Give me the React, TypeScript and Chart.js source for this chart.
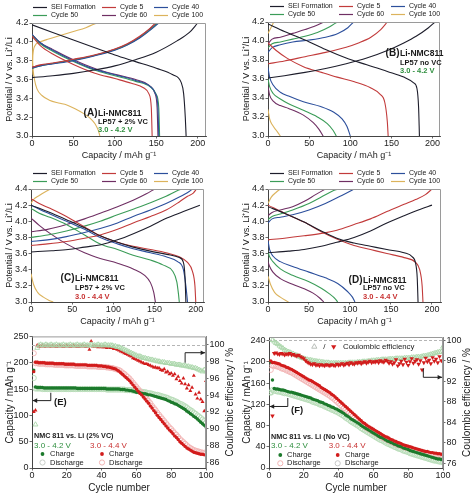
import React, { useEffect, useRef } from "react";
import { Chart, registerables } from "chart.js";

Chart.register(...registerables);

const FONT = "'Liberation Sans', Arial, Helvetica, sans-serif";
Chart.defaults.font.family = FONT;
Chart.defaults.color = "#222";

type Curve = number[][];

// ---------------- shared labels / ticks ----------------
const SERIES_LABELS = ["SEI Formation", "Cycle 5", "Cycle 40", "Cycle 50", "Cycle 60", "Cycle 100"];
const SERIES_COLORS = ["#1d1d2b", "#c23b3b", "#2c4f9c", "#3b9c58", "#6f2f63", "#dcb35c"];
const CAP_TICKS = [0, 50, 100, 150, 200];
const V_TICKS_42 = [3.0, 3.2, 3.4, 3.6, 3.8, 4.0, 4.2];
const V_TICKS_44 = [3.0, 3.2, 3.4, 3.6, 3.8, 4.0, 4.2, 4.4];
const CYCLE_TICKS = [0, 20, 40, 60, 80, 100];
const E_CAP_TICKS = [0, 50, 100, 150, 200, 250];
const E_CE_TICKS = [86, 88, 90, 92, 94, 96, 98, 100];
const F_CAP_TICKS = [0, 40, 80, 120, 160, 200, 240];
const F_CE_TICKS = [76, 80, 84, 88, 92, 96, 100];

// ---------------- Panel A : 2% VC, 3.0-4.2 V ----------------
const A_SEI_CHG: Curve = [[0,3.62],[25,3.64],[50,3.665],[75,3.70],[100,3.745],[125,3.81],[150,3.89],[175,4.01],[190,4.10],[200,4.2]];
const A_SEI_DIS: Curve = [[0,4.18],[25,4.10],[50,4.02],[75,3.94],[100,3.86],[125,3.79],[150,3.72],[170,3.65],[180,3.57],[183,3.45],[185,3.2],[186,3.0]];
const A_C5_CHG: Curve = [[0,3.73],[10,3.755],[25,3.775],[50,3.815],[75,3.86],[100,3.925],[115,3.98],[130,4.06],[142,4.14],[149,4.2]];
const A_C5_DIS: Curve = [[0,4.06],[10,3.96],[25,3.87],[50,3.76],[75,3.67],[100,3.61],[120,3.56],[135,3.51],[141,3.45],[144,3.3],[145,3.0]];
const A_C40_CHG: Curve = [[0,3.72],[10,3.745],[25,3.765],[50,3.80],[75,3.85],[100,3.91],[115,3.965],[130,4.04],[145,4.14],[153,4.2]];
const A_C40_DIS: Curve = [[0,4.08],[10,3.99],[25,3.91],[50,3.80],[75,3.71],[100,3.65],[125,3.59],[142,3.53],[149,3.45],[152,3.3],[153,3.0]];
const A_C50_CHG: Curve = [[0,3.72],[10,3.745],[25,3.77],[50,3.805],[75,3.855],[100,3.915],[115,3.97],[130,4.045],[145,4.145],[152,4.2]];
const A_C50_DIS: Curve = [[0,4.07],[10,3.98],[25,3.90],[50,3.79],[75,3.70],[100,3.64],[125,3.58],[143,3.52],[150,3.44],[153,3.3],[154,3.0]];
const A_C60_CHG: Curve = [[0,3.73],[10,3.75],[25,3.77],[50,3.81],[75,3.855],[100,3.92],[115,3.975],[130,4.05],[144,4.15],[151,4.2]];
const A_C60_DIS: Curve = [[0,4.08],[10,3.99],[25,3.92],[50,3.81],[75,3.72],[100,3.655],[125,3.60],[141,3.54],[148,3.46],[151,3.3],[152,3.0]];
const A_C100_CHG: Curve = [[0,3.65],[1,3.85],[3,3.95],[10,4.0],[20,4.03],[35,4.07],[50,4.11],[65,4.15],[78,4.2]];
const A_C100_DIS: Curve = [[0,4.0],[1,3.75],[3,3.6],[6,3.5],[12,3.43],[21,3.38],[32,3.35],[42,3.33],[52,3.29],[62,3.24],[70,3.19],[76,3.13],[80,3.06],[82,3.0]];

// ---------------- Panel B : no VC, 3.0-4.2 V ----------------
const B_SEI_CHG: Curve = [[0,3.61],[20,3.635],[45,3.67],[70,3.71],[95,3.76],[120,3.82],[145,3.9],[165,3.98],[180,4.05],[195,4.14],[203,4.2]];
const B_SEI_DIS: Curve = [[0,4.18],[20,4.1],[45,4.01],[70,3.91],[95,3.82],[120,3.75],[145,3.68],[165,3.62],[177,3.56],[181,3.5],[183,3.3],[184,3.0]];
const B_C5_CHG: Curve = [[0,3.76],[20,3.79],[45,3.835],[70,3.88],[95,3.935],[110,3.98],[125,4.04],[137,4.12],[145,4.2]];
const B_C5_DIS: Curve = [[0,3.98],[10,3.9],[23,3.82],[43,3.73],[65,3.67],[84,3.62],[105,3.57],[124,3.51],[136,3.44],[142,3.35],[145,3.15],[146,3.0]];
const B_C40_CHG: Curve = [[0,3.88],[5,3.93],[15,3.96],[30,3.99],[50,4.01],[70,4.04],[85,4.08],[97,4.14],[104,4.2]];
const B_C40_DIS: Curve = [[0,3.72],[2,3.62],[6,3.54],[15,3.46],[25,3.42],[43,3.36],[64,3.31],[80,3.25],[90,3.18],[96,3.1],[100,3.0]];
const B_C50_CHG: Curve = [[0,3.93],[5,3.97],[15,3.99],[30,4.02],[45,4.05],[60,4.09],[75,4.15],[84,4.2]];
const B_C50_DIS: Curve = [[0,3.6],[2,3.52],[6,3.45],[15,3.39],[25,3.34],[43,3.27],[60,3.2],[72,3.13],[79,3.06],[83,3.0]];
const B_C60_CHG: Curve = [[0,3.97],[5,4.02],[15,4.04],[30,4.08],[45,4.12],[58,4.16],[68,4.2]];
const B_C60_DIS: Curve = [[0,3.52],[2,3.43],[6,3.37],[15,3.32],[25,3.29],[43,3.22],[55,3.14],[62,3.07],[67,3.0]];
const B_C100_CHG: Curve = [[0,4.08],[3,4.13],[7,4.2]];
const B_C100_DIS: Curve = [[0,3.28],[2,3.18],[5,3.12],[10,3.06],[15,3.0]];

// ---------------- Panel C : 2% VC, 3.0-4.4 V ----------------
const C_SEI_CHG: Curve = [[0,3.62],[25,3.635],[45,3.65],[65,3.68],[85,3.71],[105,3.77],[125,3.85],[145,3.94],[165,4.04],[185,4.12],[205,4.2]];
const C_SEI_DIS: Curve = [[0,4.2],[20,4.12],[43,4.02],[65,3.92],[84,3.82],[105,3.74],[124,3.68],[145,3.63],[165,3.59],[180,3.55],[185,3.49],[187,3.3],[188,3.0]];
const C_C5_CHG: Curve = [[0,3.7],[20,3.72],[43,3.75],[65,3.79],[84,3.83],[105,3.9],[124,3.98],[145,4.06],[164,4.14],[180,4.24],[190,4.31],[197,4.35],[201,4.4]];
const C_C5_DIS: Curve = [[0,4.28],[10,4.22],[23,4.16],[43,4.06],[65,3.93],[84,3.82],[105,3.74],[124,3.69],[145,3.65],[164,3.61],[180,3.56],[190,3.49],[196,3.38],[199,3.2],[200,3.0]];
const C_C40_CHG: Curve = [[0,3.75],[20,3.77],[43,3.81],[65,3.86],[84,3.91],[105,3.98],[124,4.06],[145,4.14],[164,4.22],[180,4.3],[192,4.37],[196,4.4]];
const C_C40_DIS: Curve = [[0,4.2],[10,4.15],[23,4.09],[43,4.0],[65,3.9],[84,3.8],[105,3.72],[124,3.66],[145,3.61],[164,3.56],[178,3.5],[185,3.4],[188,3.2],[190,3.0]];
const C_C50_CHG: Curve = [[0,3.8],[20,3.83],[43,3.88],[65,3.94],[84,4.0],[105,4.08],[124,4.15],[145,4.23],[164,4.31],[178,4.38],[183,4.4]];
const C_C50_DIS: Curve = [[0,4.16],[10,4.1],[23,4.05],[43,3.96],[65,3.83],[84,3.72],[105,3.65],[124,3.58],[145,3.52],[160,3.46],[172,3.38],[177,3.25],[179,3.1],[180,3.0]];
const C_C60_CHG: Curve = [[0,3.87],[20,3.9],[43,3.96],[65,4.03],[84,4.1],[105,4.18],[124,4.26],[140,4.34],[150,4.4]];
const C_C60_DIS: Curve = [[0,4.04],[10,3.95],[23,3.85],[43,3.72],[65,3.61],[84,3.54],[105,3.48],[124,3.41],[138,3.33],[145,3.24],[149,3.12],[151,3.0]];
const C_C100_CHG: Curve = [[0,4.22],[3,4.27],[10,4.32],[18,4.37],[24,4.4]];
const C_C100_DIS: Curve = [[0,3.35],[3,3.22],[8,3.12],[15,3.06],[22,3.02],[27,3.0]];

// ---------------- Panel D : no VC, 3.0-4.4 V ----------------
const D_SEI_CHG: Curve = [[0,3.61],[25,3.63],[44,3.65],[65,3.69],[84,3.74],[105,3.8],[125,3.88],[145,3.98],[166,4.07],[186,4.15],[200,4.2]];
const D_SEI_DIS: Curve = [[0,4.18],[20,4.1],[44,3.99],[65,3.88],[84,3.79],[105,3.73],[125,3.69],[145,3.65],[166,3.61],[176,3.56],[180,3.48],[182,3.3],[183,3.0]];
const D_C5_CHG: Curve = [[0,3.77],[20,3.79],[44,3.82],[65,3.85],[84,3.89],[105,3.96],[125,4.03],[145,4.12],[166,4.21],[180,4.27],[192,4.33],[200,4.4]];
const D_C5_DIS: Curve = [[0,4.2],[20,4.1],[44,3.99],[65,3.87],[84,3.78],[105,3.7],[125,3.65],[145,3.6],[166,3.55],[180,3.49],[185,3.4],[188,3.2],[189,3.0]];
const D_C40_CHG: Curve = [[0,3.98],[5,4.03],[15,4.05],[30,4.08],[50,4.14],[70,4.22],[90,4.32],[105,4.4]];
const D_C40_DIS: Curve = [[0,3.76],[2,3.65],[6,3.57],[15,3.5],[30,3.44],[50,3.37],[70,3.3],[85,3.23],[97,3.13],[103,3.06],[106,3.0]];
const D_C50_CHG: Curve = [[0,4.02],[5,4.06],[15,4.09],[30,4.14],[50,4.22],[65,4.3],[80,4.38],[86,4.4]];
const D_C50_DIS: Curve = [[0,3.62],[2,3.56],[6,3.5],[15,3.41],[30,3.33],[50,3.25],[65,3.17],[75,3.1],[82,3.04],[85,3.0]];
const D_C60_CHG: Curve = [[0,4.07],[5,4.11],[15,4.14],[30,4.18],[45,4.25],[58,4.33],[70,4.4]];
const D_C60_DIS: Curve = [[0,3.5],[2,3.44],[6,3.37],[15,3.29],[30,3.22],[45,3.16],[55,3.11],[63,3.05],[68,3.0]];
const D_C100_CHG: Curve = [[0,4.22],[4,4.3],[10,4.36],[15,4.4]];
const D_C100_DIS: Curve = [[0,3.32],[3,3.22],[8,3.12],[15,3.06],[25,3.0]];

// ---------------- Panel E : cycling with 2% VC (values per cycle 1..100) ----------------
const E_C42 = [
  186,154,153,153,153,153,152,152,152,152,
  152,152,152,152,152,152,152,152,152,152,
  152,152,152,152,152,151,151,151,151,151,
  151,151,151,151,151,151,151,151,151,151,
  151,151,150,150,150,150,150,150,150,150,
  149,149,149,148,148,147,147,146,145,144,
  144,143,142,141,141,140,139,139,138,137,
  136,135,134,133,132,131,130,128,127,125,
  124,122,121,119,117,115,113,111,108,106,
  103,101,98,96,93,90,87,84,81,78];
const E_D42 = [
  171,151,151,151,151,150,150,150,150,150,
  150,150,150,150,150,150,150,150,150,150,
  150,150,150,150,150,150,150,150,150,150,
  150,150,150,150,150,150,150,150,150,150,
  150,150,149,149,149,149,149,149,149,149,
  149,149,149,148,148,148,148,147,147,146,
  146,145,145,144,144,143,142,142,141,140,
  139,139,138,137,136,135,134,133,131,130,
  129,127,126,124,122,121,119,117,115,112,
  110,108,105,103,100,98,95,92,89,86];
const E_C44 = [
  183,201,201,200,200,200,200,199,199,199,
  199,199,198,198,198,198,198,198,197,197,
  197,197,197,197,196,196,196,196,196,196,
  196,195,195,195,195,195,195,194,194,194,
  193,193,192,192,191,190,189,188,186,184,
  181,178,175,172,169,166,162,158,154,150,
  146,142,139,135,131,127,123,118,114,109,
  105,100,96,92,88,84,80,76,72,69,
  65,61,58,54,50,47,44,41,38,36,
  34,32,30,29,28,27,26,26,25,25];
const E_D44 = [
  218,199,199,198,198,198,198,197,197,197,
  197,197,196,196,196,196,196,196,195,195,
  195,195,195,195,194,194,194,194,194,194,
  194,193,193,193,193,193,193,192,192,192,
  192,192,191,191,190,190,189,188,187,186,
  184,181,179,176,173,170,166,162,158,154,
  150,146,143,139,135,131,127,123,118,114,
  110,105,101,97,93,89,85,81,77,74,
  70,66,63,59,55,52,49,46,43,40,
  38,36,34,33,32,31,30,29,29,28];
const E_CE42 = [
  null,90.5,99.6,99.9,100.0,99.9,99.9,100.0,99.9,99.9,
  100.0,99.9,99.9,100.0,99.9,99.9,99.9,100.0,99.9,99.9,
  99.9,100.0,99.9,99.9,99.9,100.0,99.9,99.9,99.9,100.0,
  99.9,99.9,99.9,100.0,99.9,99.9,99.9,100.0,99.9,99.9,
  99.9,100.0,99.9,99.9,99.9,99.9,99.8,99.8,99.7,99.7,
  99.6,99.5,99.4,99.3,99.2,99.1,99.0,98.9,98.8,98.7,
  98.6,98.6,98.5,98.4,98.4,98.3,98.3,98.2,98.2,98.1,
  98.1,98.0,98.0,97.9,97.9,97.9,97.8,97.8,97.8,97.7,
  97.7,97.7,97.6,97.6,97.6,97.5,97.5,97.5,97.4,97.4,
  97.3,97.3,97.2,97.2,97.1,97.0,96.9,96.8,97.0,96.8];
const E_CE44 = [
  92.0,92.2,99.9,99.8,99.8,99.9,99.8,99.8,99.9,99.8,
  99.8,99.9,99.8,99.8,99.8,99.9,99.8,99.8,99.8,99.9,
  99.8,99.8,99.8,99.9,99.8,99.8,99.8,99.8,99.9,99.8,
  99.8,99.8,99.4,100.4,99.8,99.8,99.8,99.7,99.8,99.7,
  99.7,99.7,99.6,99.7,99.6,99.6,99.5,99.5,99.4,99.3,
  99.2,99.1,99.0,98.9,98.8,98.7,98.6,98.4,98.3,98.2,
  98.1,98.0,97.9,97.8,97.7,97.7,97.6,97.5,97.4,97.3,
  97.3,97.2,97.2,97.0,96.9,97.1,96.7,96.8,96.5,96.6,
  96.3,96.5,95.9,96.2,95.7,95.4,96.0,95.3,94.8,95.2,
  94.5,94.9,96.3,94.1,93.6,94.3,93.5,93.2,92.1,95.7];

// ---------------- Panel F : cycling without VC (values per cycle 1..100) ----------------
const F_C42 = [
  200,166,150,149,149,148,147,147,146,145,
  144,143,143,142,141,140,139,138,137,136,
  135,134,133,132,130,129,128,127,125,124,
  123,121,120,118,117,115,114,112,111,109,
  107,105,103,100,98,96,93,91,89,87,
  85,83,80,78,76,74,72,70,68,66,
  64,62,60,58,57,55,53,51,50,48,
  47,45,44,42,41,40,38,37,36,35,
  33,32,31,30,29,28,27,26,25,24,
  23,22,21,20,19,18,17,17,16,15];
const F_D42 = [
  142,147,146,145,144,144,143,142,141,141,
  140,139,138,137,136,135,134,133,132,131,
  130,129,128,127,125,124,123,122,120,119,
  118,116,115,113,112,110,109,107,106,104,
  102,100,98,95,93,91,88,86,84,82,
  80,78,75,73,71,69,67,65,63,61,
  59,57,55,53,52,50,48,46,45,43,
  42,40,39,37,36,35,33,32,31,30,
  28,27,26,25,24,23,22,21,20,19,
  18,17,16,15,14,14,13,12,12,11];
const F_C44 = [
  202,199,199,198,197,196,194,193,192,190,
  189,187,186,184,182,180,178,176,174,172,
  170,168,166,165,163,161,159,157,155,152,
  150,148,146,144,142,139,137,134,131,128,
  125,122,119,116,113,110,107,104,101,98,
  95,92,89,86,84,81,79,77,75,73,
  71,69,67,65,63,61,59,58,56,54,
  53,51,50,48,47,46,44,43,42,41,
  40,39,38,37,36,35,34,33,32,31,
  31,30,29,29,28,28,27,27,26,26];
const F_D44 = [
  185,193,193,192,191,190,188,187,186,184,
  183,181,180,178,176,174,172,170,168,166,
  164,162,160,158,156,154,152,150,148,146,
  144,142,140,138,136,133,131,128,125,122,
  119,116,113,110,107,104,101,98,95,92,
  89,87,84,81,79,76,74,72,70,68,
  66,64,62,60,58,56,55,53,51,50,
  48,47,45,44,43,41,40,39,38,37,
  36,35,34,33,32,31,30,29,28,28,
  27,26,26,25,25,24,24,23,23,22];
const F_CE42 = [
  89.7,100.0,99.7,99.4,99.2,98.9,98.6,98.4,98.1,97.9,
  97.7,97.6,97.4,97.3,97.1,97.0,96.8,96.7,96.5,96.4,
  96.3,96.2,96.1,96.1,96.0,95.9,95.9,95.8,95.8,95.7,
  95.7,95.6,95.6,95.6,95.5,95.5,95.5,95.5,95.5,95.5,
  95.5,95.5,95.5,95.5,95.5,95.6,95.6,95.6,95.6,95.6,
  95.7,95.7,95.7,95.8,95.8,95.8,95.9,95.9,96.0,96.0,
  96.0,96.1,96.1,96.1,96.2,96.2,96.2,96.2,96.3,96.3,
  96.3,96.3,96.4,96.4,96.4,96.4,96.4,96.5,96.5,96.5,
  96.5,96.6,96.6,96.6,96.7,96.7,96.7,96.8,96.9,96.9,
  97.0,97.1,97.2,97.3,97.4,97.5,97.6,97.7,97.7,98.7];
const F_CE44 = [
  null,85.2,97.4,97.5,97.3,97.2,97.4,97.3,97.1,97.3,
  97.2,97.4,97.1,97.2,97.0,96.9,97.1,96.8,96.6,96.4,
  96.0,95.7,95.5,95.3,95.2,95.4,95.1,95.2,95.0,95.2,
  95.1,95.0,95.2,95.1,95.0,95.2,95.1,95.0,95.3,95.1,
  95.2,95.4,95.1,95.3,95.5,95.2,95.6,95.4,95.3,95.6,
  95.5,95.7,95.4,95.6,95.8,95.5,95.7,95.9,95.6,95.8,
  95.7,95.9,95.6,96.0,95.8,95.7,96.1,95.9,95.5,95.8,
  95.3,95.6,96.2,95.0,95.4,95.9,95.2,96.3,95.7,95.1,
  95.8,96.4,95.5,95.9,96.2,95.3,96.0,94.2,95.6,96.5,
  95.8,96.1,95.4,96.6,95.9,96.3,95.6,96.8,96.0,95.7];

// ---------------- styling helpers ----------------
const GREEN_T = "#2f8f3f";
const RED_T = "#c83232";
const DOT_GREEN = "#1c7a2c";
const DOT_RED = "#d21c1c";
const RING_GREEN = "#b7dbb7";
const RING_PINK = "#f2b4b4";
const TRI_GREEN = "#a9d6a9";

interface TextItem { t: string; x: number; y: number; size: number; bold?: boolean; color?: string; align?: CanvasTextAlign; }
interface MarkItem { shape: "dot" | "ring" | "tri" | "tridown"; x: number; y: number; color: string; }
interface Rect { l: number; r: number; t: number; b: number; }

function drawText(ctx: CanvasRenderingContext2D, it: TextItem) {
  ctx.save();
  ctx.font = `${it.bold ? "bold " : ""}${it.size}px ${FONT}`;
  ctx.fillStyle = it.color ?? "#1a1a1a";
  ctx.textAlign = it.align ?? "left";
  ctx.textBaseline = "middle";
  ctx.fillText(it.t, it.x, it.y);
  ctx.restore();
}

function drawMark(ctx: CanvasRenderingContext2D, m: MarkItem) {
  ctx.save();
  ctx.beginPath();
  if (m.shape === "dot" || m.shape === "ring") {
    ctx.arc(m.x, m.y, m.shape === "dot" ? 1.9 : 2.6, 0, Math.PI * 2);
  } else {
    const r = 3;
    const s = m.shape === "tri" ? 1 : -1;
    ctx.moveTo(m.x, m.y - s * r);
    ctx.lineTo(m.x + r * 0.87, m.y + s * r * 0.5);
    ctx.lineTo(m.x - r * 0.87, m.y + s * r * 0.5);
    ctx.closePath();
  }
  if (m.shape === "dot" || m.shape === "tridown") {
    ctx.fillStyle = m.color;
    ctx.fill();
  } else {
    ctx.strokeStyle = m.color;
    ctx.lineWidth = 1;
    ctx.stroke();
  }
  ctx.restore();
}

function frameTopRight(chart: any, color: string) {
  const { ctx, chartArea: a } = chart;
  ctx.save();
  ctx.strokeStyle = color;
  ctx.lineWidth = 1;
  ctx.beginPath();
  ctx.moveTo(a.left, a.top + 0.5);
  ctx.lineTo(a.right - 0.5, a.top + 0.5);
  ctx.lineTo(a.right - 0.5, a.bottom);
  ctx.stroke();
  ctx.restore();
}

function linAxis(o: {
  min: number; max: number; ticks: number[]; fit: number; horizontal: boolean;
  title?: string; titleSize?: number; titlePad?: any; fmt?: (v: number) => string;
  position?: string; borderColor?: string; tickPad?: number;
}) {
  return {
    type: "linear",
    position: o.position ?? (o.horizontal ? "bottom" : "left"),
    min: o.min,
    max: o.max,
    afterBuildTicks: (s: any) => { s.ticks = o.ticks.map((v) => ({ value: v })); },
    afterFit: (s: any) => { if (o.horizontal) s.height = o.fit; else s.width = o.fit; },
    ticks: {
      font: { size: 9 },
      color: "#222",
      padding: o.tickPad ?? 1,
      autoSkip: false,
      maxRotation: 0,
      minRotation: 0,
      callback: (v: any) => (o.fmt ? o.fmt(Number(v)) : String(v)),
    },
    grid: { display: true, drawOnChartArea: false, drawTicks: true, tickLength: 2.5, color: "#444", lineWidth: 0.8 },
    border: { display: true, color: o.borderColor ?? "#444", width: 1 },
    title: o.title
      ? { display: true, text: o.title, font: { size: o.titleSize ?? 9 }, color: "#1a1a1a", padding: o.titlePad ?? { top: 4, bottom: 4 } }
      : { display: false },
  };
}

// ---------------- voltage profile panels ----------------
function voltageConfig(spec: {
  w: number; h: number; plot: Rect; curves: Curve[][]; yMax: number; yTicks: number[]; xMax: number;
  texts: TextItem[]; xTitlePad: number;
}) {
  const datasets: any[] = [];
  spec.curves.forEach((pair, i) => {
    pair.forEach((c, j) => {
      datasets.push({
        label: SERIES_LABELS[i] + (j === 0 ? " charge" : " discharge"),
        data: c.map(([x, y]) => ({ x, y })),
        showLine: true,
        borderColor: SERIES_COLORS[i],
        backgroundColor: SERIES_COLORS[i],
        borderWidth: 1.1,
        pointRadius: 0,
        cubicInterpolationMode: "monotone",
        fill: false,
      });
    });
  });
  const { plot, w, h } = spec;
  const deco = {
    id: "deco",
    afterDraw(chart: any) {
      const ctx = chart.ctx as CanvasRenderingContext2D;
      frameTopRight(chart, "#9a9a9a");
      const cols = [33, 102, 154];
      const rows = [plot.t - 15.5, plot.t - 7.5];
      SERIES_LABELS.forEach((lab, i) => {
        const x = cols[i % 3];
        const y = rows[Math.floor(i / 3)];
        ctx.save();
        ctx.strokeStyle = SERIES_COLORS[i];
        ctx.lineWidth = 1.2;
        ctx.beginPath();
        ctx.moveTo(x, y);
        ctx.lineTo(x + 14, y);
        ctx.stroke();
        ctx.restore();
        drawText(ctx, { t: lab, x: x + 18, y, size: 7 });
      });
      spec.texts.forEach((t) => drawText(ctx, t));
    },
  };
  return {
    type: "scatter",
    data: { datasets },
    options: {
      responsive: false,
      animation: false,
      devicePixelRatio: 1,
      events: [],
      layout: { padding: { top: plot.t, right: w - plot.r, left: 0, bottom: 0 } },
      plugins: { legend: { display: false }, tooltip: { enabled: false }, colors: { enabled: false } },
      scales: {
        x: linAxis({ min: 0, max: spec.xMax, ticks: CAP_TICKS, fit: h - plot.b, horizontal: true,
          title: "Capacity / mAh g\u207B\u00B9", titleSize: 9, titlePad: { top: 0, bottom: spec.xTitlePad }, tickPad: 0 }),
        y: linAxis({ min: 3.0, max: spec.yMax, ticks: spec.yTicks, fit: plot.l, horizontal: false,
          title: "Potential / V vs. Li\u207A/Li", titleSize: 9, fmt: (v) => v.toFixed(1) }),
      },
    },
    plugins: [deco],
  };
}

// ---------------- cycling panels ----------------
function cycleConfig(spec: {
  w: number; h: number; plot: Rect; capMax: number; capTicks: number[]; ceMin: number; ceMax: number; ceTicks: number[];
  c42: (number | null)[]; d42: (number | null)[]; c44: (number | null)[]; d44: (number | null)[];
  ce42: (number | null)[]; ce44: (number | null)[]; ceDown: boolean; ce42OnTop: boolean;
  texts: TextItem[]; marks: MarkItem[]; arrows: number[][][];
}) {
  const toPts = (arr: (number | null)[]) =>
    arr.map((v, i) => ({ x: i + 1, y: v })).filter((p) => p.y !== null);
  const dot = (c: string) => ({ pointStyle: "circle", pointRadius: 1.7, pointBackgroundColor: c, pointBorderColor: c, pointBorderWidth: 0, borderColor: c, backgroundColor: c });
  const ring = (c: string) => ({ pointStyle: "circle", pointRadius: 2.6, pointBackgroundColor: "rgba(255,255,255,0)", pointBorderColor: c, pointBorderWidth: 0.9, borderColor: c, backgroundColor: c });
  const triOpen = (c: string) => ({ pointStyle: "triangle", pointRadius: 2.8, pointBackgroundColor: "rgba(255,255,255,0)", pointBorderColor: c, pointBorderWidth: 0.9, borderColor: c, backgroundColor: c });
  const triFill = (c: string, rot: number, r: number) => ({ pointStyle: "triangle", pointRadius: r, pointBackgroundColor: c, pointBorderColor: c, pointBorderWidth: 0, pointRotation: rot, borderColor: c, backgroundColor: c });
  const ce44 = { label: "CE 4.4", data: toPts(spec.ce44), yAxisID: "y2", showLine: false, ...triFill(DOT_RED, spec.ceDown ? 180 : 0, spec.ce42OnTop ? 2.3 : 2.6) };
  const ce42 = { label: "CE 4.2", data: toPts(spec.ce42), yAxisID: "y2", showLine: false, ...triOpen(TRI_GREEN) };
  const datasets: any[] = [
    { label: "4.4 charge", data: toPts(spec.c44), yAxisID: "y", showLine: false, ...dot(DOT_RED) },
    { label: "4.2 charge", data: toPts(spec.c42), yAxisID: "y", showLine: false, ...dot(DOT_GREEN) },
    { label: "4.4 discharge", data: toPts(spec.d44), yAxisID: "y", showLine: false, ...ring(RING_PINK) },
    { label: "4.2 discharge", data: toPts(spec.d42), yAxisID: "y", showLine: false, ...ring(RING_GREEN) },
    ...(spec.ce42OnTop ? [ce42, ce44] : [ce44, ce42]),
  ];
  const { plot, w, h } = spec;
  const deco = {
    id: "deco",
    beforeDatasetsDraw(chart: any) {
      const ctx = chart.ctx as CanvasRenderingContext2D;
      const a = chart.chartArea;
      const y = Math.round(chart.scales.y2.getPixelForValue(100)) + 0.5;
      ctx.save();
      ctx.strokeStyle = "#b5b5b5";
      ctx.lineWidth = 1;
      ctx.setLineDash([3, 2]);
      ctx.beginPath();
      ctx.moveTo(a.left, y);
      ctx.lineTo(a.right, y);
      ctx.stroke();
      ctx.restore();
    },
    afterDraw(chart: any) {
      const ctx = chart.ctx as CanvasRenderingContext2D;
      frameTopRight(chart, "#9a9a9a");
      const xs = chart.scales.x, ys = chart.scales.y;
      spec.arrows.forEach((pts) => {
        const p = pts.map(([a, b]) => [xs.getPixelForValue(a), ys.getPixelForValue(b)]);
        ctx.save();
        ctx.strokeStyle = "#222";
        ctx.fillStyle = "#222";
        ctx.lineWidth = 1;
        ctx.beginPath();
        ctx.moveTo(p[0][0], p[0][1]);
        for (let i = 1; i < p.length; i++) ctx.lineTo(p[i][0], p[i][1]);
        ctx.stroke();
        const [x1, y1] = p[p.length - 2];
        const [x2, y2] = p[p.length - 1];
        const ang = Math.atan2(y2 - y1, x2 - x1);
        ctx.beginPath();
        ctx.moveTo(x2, y2);
        ctx.lineTo(x2 - 4.5 * Math.cos(ang) + 2.3 * Math.sin(ang), y2 - 4.5 * Math.sin(ang) - 2.3 * Math.cos(ang));
        ctx.lineTo(x2 - 4.5 * Math.cos(ang) - 2.3 * Math.sin(ang), y2 - 4.5 * Math.sin(ang) + 2.3 * Math.cos(ang));
        ctx.closePath();
        ctx.fill();
        ctx.restore();
      });
      spec.marks.forEach((m) => drawMark(ctx, m));
      spec.texts.forEach((t) => drawText(ctx, t));
      // right axis title, reading bottom-to-top
      const a = chart.chartArea;
      ctx.save();
      ctx.translate(w - 7, (a.top + a.bottom) / 2);
      ctx.rotate(-Math.PI / 2);
      ctx.font = `10px ${FONT}`;
      ctx.fillStyle = "#1a1a1a";
      ctx.textAlign = "center";
      ctx.textBaseline = "middle";
      ctx.fillText("Coulombic efficiency / %", 0, 0);
      ctx.restore();
    },
  };
  return {
    type: "scatter",
    data: { datasets },
    options: {
      responsive: false,
      animation: false,
      devicePixelRatio: 1,
      events: [],
      layout: { padding: { top: plot.t, right: 0, left: 0, bottom: 0 } },
      plugins: { legend: { display: false }, tooltip: { enabled: false }, colors: { enabled: false } },
      scales: {
        x: linAxis({ min: 0, max: 100, ticks: CYCLE_TICKS, fit: h - plot.b, horizontal: true,
          title: "Cycle number", titleSize: 10, titlePad: { top: 0, bottom: 8 }, tickPad: 0 }),
        y: linAxis({ min: 0, max: spec.capMax, ticks: spec.capTicks, fit: plot.l, horizontal: false,
          title: "Capacity / mAh g\u207B\u00B9", titleSize: 10 }),
        y2: linAxis({ min: spec.ceMin, max: spec.ceMax, ticks: spec.ceTicks, fit: w - plot.r, horizontal: false,
          position: "right", borderColor: "#888" }),
      },
    },
    plugins: [deco],
  };
}

function ChartCanvas({ x, y, w, h, build }: { x: number; y: number; w: number; h: number; build: () => any }) {
  const ref = useRef<HTMLCanvasElement>(null);
  useEffect(() => {
    const chart = new Chart(ref.current as HTMLCanvasElement, build());
    return () => chart.destroy();
  }, []);
  return (
    <canvas
      ref={ref}
      width={w}
      height={h}
      style={{ position: "absolute", left: x, top: y, width: w, height: h, display: "block" }}
    />
  );
}

const buildA = () => voltageConfig({
  w: 237, h: 165, plot: { l: 32, r: 206, t: 23, b: 136 }, xMax: 210, yMax: 4.2, yTicks: V_TICKS_42, xTitlePad: 4,
  curves: [[A_SEI_CHG, A_SEI_DIS], [A_C5_CHG, A_C5_DIS], [A_C40_CHG, A_C40_DIS], [A_C50_CHG, A_C50_DIS], [A_C60_CHG, A_C60_DIS], [A_C100_CHG, A_C100_DIS]],
  texts: [
    { t: "(A)", x: 97.5, y: 113, size: 10, bold: true, align: "right" },
    { t: "Li-NMC811", x: 98, y: 114, size: 8.5, bold: true },
    { t: "LP57 + 2% VC", x: 98, y: 122, size: 7.5, bold: true },
    { t: "3.0 - 4.2 V", x: 98, y: 130, size: 7.5, bold: true, color: GREEN_T },
  ],
});

const buildB = () => voltageConfig({
  w: 237, h: 165, plot: { l: 31, r: 203, t: 22, b: 136 }, xMax: 209, yMax: 4.2, yTicks: V_TICKS_42, xTitlePad: 4,
  curves: [[B_SEI_CHG, B_SEI_DIS], [B_C5_CHG, B_C5_DIS], [B_C40_CHG, B_C40_DIS], [B_C50_CHG, B_C50_DIS], [B_C60_CHG, B_C60_DIS], [B_C100_CHG, B_C100_DIS]],
  texts: [
    { t: "(B)", x: 162.5, y: 53, size: 10, bold: true, align: "right" },
    { t: "Li-NMC811", x: 163, y: 53.5, size: 8.5, bold: true },
    { t: "LP57 no VC", x: 163, y: 62.7, size: 7.5, bold: true },
    { t: "3.0 - 4.2 V", x: 163, y: 71.3, size: 7.5, bold: true, color: GREEN_T },
  ],
});

const buildC = () => voltageConfig({
  w: 237, h: 165, plot: { l: 31, r: 204, t: 24, b: 137 }, xMax: 210, yMax: 4.4, yTicks: V_TICKS_44, xTitlePad: 3,
  curves: [[C_SEI_CHG, C_SEI_DIS], [C_C5_CHG, C_C5_DIS], [C_C40_CHG, C_C40_DIS], [C_C50_CHG, C_C50_DIS], [C_C60_CHG, C_C60_DIS], [C_C100_CHG, C_C100_DIS]],
  texts: [
    { t: "(C)", x: 74.5, y: 113.3, size: 10, bold: true, align: "right" },
    { t: "Li-NMC811", x: 75, y: 113.5, size: 8.5, bold: true },
    { t: "LP57 + 2% VC", x: 75, y: 123.3, size: 7.5, bold: true },
    { t: "3.0 - 4.4 V", x: 75, y: 131.7, size: 7.5, bold: true, color: RED_T },
  ],
});

const buildD = () => voltageConfig({
  w: 237, h: 165, plot: { l: 31, r: 204, t: 24, b: 137 }, xMax: 211, yMax: 4.4, yTicks: V_TICKS_44, xTitlePad: 3,
  curves: [[D_SEI_CHG, D_SEI_DIS], [D_C5_CHG, D_C5_DIS], [D_C40_CHG, D_C40_DIS], [D_C50_CHG, D_C50_DIS], [D_C60_CHG, D_C60_DIS], [D_C100_CHG, D_C100_DIS]],
  texts: [
    { t: "(D)", x: 125.5, y: 115, size: 10, bold: true, align: "right" },
    { t: "Li-NMC811", x: 126, y: 115.3, size: 8.5, bold: true },
    { t: "LP57 no VC", x: 126, y: 123.3, size: 7.5, bold: true },
    { t: "3.0 - 4.4 V", x: 126, y: 131.7, size: 7.5, bold: true, color: RED_T },
  ],
});

const buildE = () => cycleConfig({
  w: 237, h: 172, plot: { l: 32, r: 206, t: 5, b: 138 },
  capMax: 250, capTicks: E_CAP_TICKS, ceMin: 85.34, ceMax: 100.97, ceTicks: E_CE_TICKS,
  c42: E_C42, d42: E_D42, c44: E_C44, d44: E_D44, ce42: E_CE42, ce44: E_CE44, ceDown: false, ce42OnTop: true,
  arrows: [[[10.8, 143], [10.8, 128], [0.4, 128]], [[88, 200], [88, 219], [99.5, 219]]],
  texts: [
    { t: "(E)", x: 54, y: 72.5, size: 9.5, bold: true },
    { t: "NMC 811 vs. Li (2% VC)", x: 34, y: 106, size: 7.2, bold: true },
    { t: "3.0 - 4.2 V", x: 34, y: 115.5, size: 8, color: GREEN_T },
    { t: "3.0 - 4.4 V", x: 90, y: 115.5, size: 8, color: RED_T },
    { t: "Charge", x: 50, y: 124, size: 7.5 },
    { t: "Discharge", x: 50, y: 132.5, size: 7.5 },
    { t: "Charge", x: 109, y: 124, size: 7.5 },
    { t: "Discharge", x: 109, y: 132.5, size: 7.5 },
  ],
  marks: [
    { shape: "dot", x: 42.5, y: 124, color: DOT_GREEN },
    { shape: "ring", x: 42.5, y: 132.5, color: "#c8cec8" },
    { shape: "dot", x: 102, y: 124, color: DOT_RED },
    { shape: "ring", x: 102, y: 132.5, color: RING_PINK },
  ],
});

const buildF = () => cycleConfig({
  w: 237, h: 172, plot: { l: 32, r: 206, t: 7, b: 138 },
  capMax: 247, capTicks: F_CAP_TICKS, ceMin: 75.03, ceMax: 100.6, ceTicks: F_CE_TICKS,
  c42: F_C42, d42: F_D42, c44: F_C44, d44: F_D44, ce42: F_CE42, ce44: F_CE44, ceDown: true, ce42OnTop: false,
  arrows: [[[10.8, 132], [10.8, 116], [0.4, 116]], [[88.7, 188], [88.7, 171], [99.5, 171]]],
  texts: [
    { t: "(F)", x: 54, y: 80, size: 9.5, bold: true },
    { t: "/", x: 87.3, y: 16.7, size: 8, align: "center" },
    { t: "Coulombic efficiency", x: 106, y: 16.7, size: 7.8 },
    { t: "NMC 811 vs. Li (No VC)", x: 34, y: 106.7, size: 7.2, bold: true },
    { t: "3.0 - 4.2 V", x: 34, y: 116, size: 8, color: GREEN_T },
    { t: "3.0 - 4.4 V", x: 91.7, y: 116, size: 8, color: RED_T },
    { t: "Charge", x: 50, y: 125, size: 7.5 },
    { t: "Discharge", x: 50, y: 133.3, size: 7.5 },
    { t: "Charge", x: 108, y: 125, size: 7.5 },
    { t: "Discharge", x: 108, y: 133.3, size: 7.5 },
  ],
  marks: [
    { shape: "tri", x: 77.3, y: 16.7, color: "#b9beb9" },
    { shape: "tridown", x: 96.7, y: 16.7, color: DOT_RED },
    { shape: "dot", x: 43.3, y: 125, color: DOT_GREEN },
    { shape: "ring", x: 43.3, y: 133.3, color: RING_PINK },
    { shape: "dot", x: 100.7, y: 125, color: DOT_RED },
    { shape: "ring", x: 100.7, y: 133.3, color: "#c8c8c8" },
  ],
});

export default function App() {
  return (
    <div style={{ position: "fixed", left: 0, top: 0, width: 474, height: 502, background: "#fff", overflow: "hidden" }}>
      <ChartCanvas x={0} y={0} w={237} h={165} build={buildA} />
      <ChartCanvas x={237} y={0} w={237} h={165} build={buildB} />
      <ChartCanvas x={0} y={165} w={237} h={165} build={buildC} />
      <ChartCanvas x={237} y={165} w={237} h={165} build={buildD} />
      <ChartCanvas x={0} y={330} w={237} h={172} build={buildE} />
      <ChartCanvas x={237} y={330} w={237} h={172} build={buildF} />
    </div>
  );
}
